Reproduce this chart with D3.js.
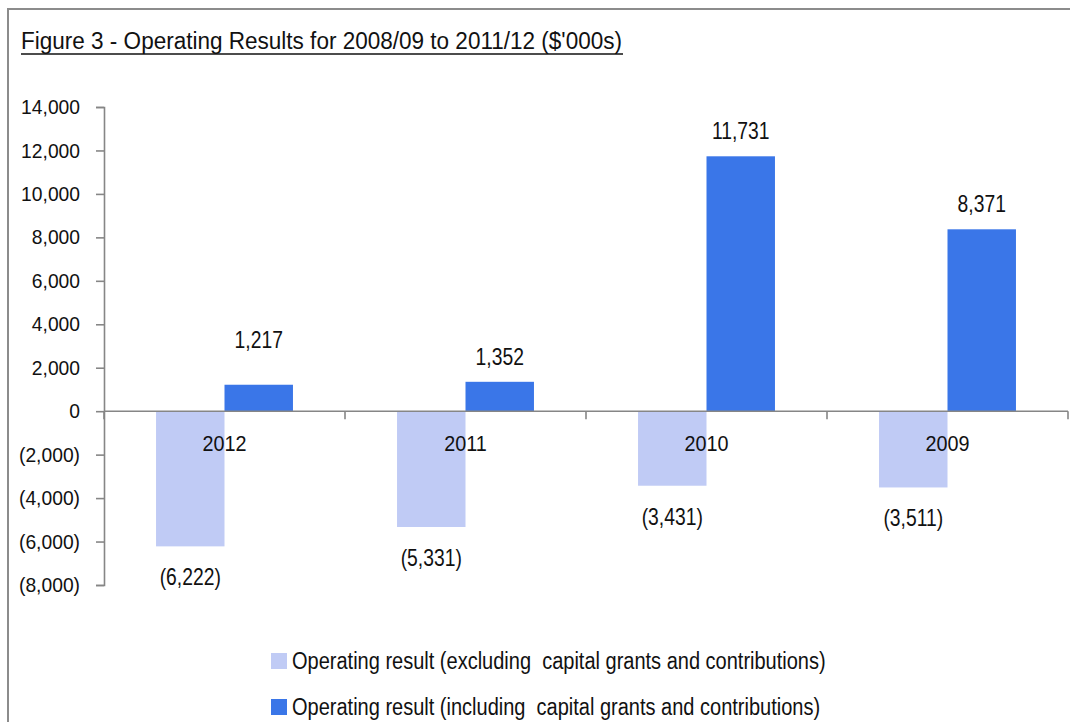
<!DOCTYPE html>
<html>
<head>
<meta charset="utf-8">
<script src="https://cdn.jsdelivr.net/npm/d3@7"></script>
<style>
  html, body { margin: 0; padding: 0; background: #fff; }
  svg { display: block; }
  text { font-family: "Liberation Sans", Arial, sans-serif; fill: #111; }
</style>
</head>
<body>
<svg id="chart" width="1070" height="722"></svg>
<script>
// Operating results by financial year ($'000s)
const years = ["2012", "2011", "2010", "2009"];
const seriesNames = [
  "Operating result (excluding  capital grants and contributions)",
  "Operating result (including  capital grants and contributions)"
];
const excludingCapital = [-6222, -5331, -3431, -3511];
const includingCapital = [1217, 1352, 11731, 8371];
const yTicks = [-8000, -6000, -4000, -2000, 0, 2000, 4000, 6000, 8000, 10000, 12000, 14000];
const titleText = "Figure 3 - Operating Results for 2008/09 to 2011/12 ($'000s)";

const colors = ["#c0cbf5", "#3a76e8"];
const axisColor = "#868686";

// narrow-face look: regular sans squeezed horizontally
const squeeze = { tick: 0.94, category: 0.9, value: 0.84, legend: 0.87 };
// hand-placed label offset (pixels) for the 2012 "including" label
const labelLift = { "2012-1": -20 };

const svg = d3.select("#chart");

// outer frame (top and left edges visible)
svg.append("path")
  .attr("d", "M8,722 V9 H1070")
  .attr("fill", "none")
  .attr("stroke", "#8c8c8c")
  .attr("stroke-width", 2);

// title, underlined
svg.append("text")
  .attr("x", 21).attr("y", 49.3)
  .attr("font-size", 23.3)
  .attr("textLength", 601)
  .attr("lengthAdjust", "spacingAndGlyphs")
  .text(titleText);
svg.append("line")
  .attr("x1", 21).attr("x2", 623)
  .attr("y1", 54).attr("y2", 54)
  .attr("stroke", "#111").attr("stroke-width", 1.6);

const plot = { left: 104, right: 1068, top: 107, bottom: 585 };

const y = d3.scaleLinear()
  .domain([-8000, 14000])
  .range([plot.bottom, plot.top]);

const x = d3.scaleBand()
  .domain(years)
  .range([plot.left, plot.right])
  .padding(0);

const xs = d3.scaleBand()
  .domain([0, 1])
  .range([0, x.bandwidth()])
  .paddingInner(0)
  .paddingOuter(0.76);

const fmt = v => {
  const s = d3.format(",")(Math.abs(v));
  return v < 0 ? "(" + s + ")" : s;
};

// y axis
const tickPad = 16;
const yAxis = d3.axisLeft(y)
  .tickValues(yTicks)
  .tickSize(8)
  .tickPadding(tickPad)
  .tickFormat(fmt);

const gy = svg.append("g")
  .attr("transform", `translate(${plot.left},0)`)
  .call(yAxis);
gy.select(".domain").attr("stroke", axisColor).attr("stroke-width", 1.6);
gy.selectAll(".tick line").attr("stroke", axisColor).attr("stroke-width", 1.6);
gy.selectAll(".tick text")
  .attr("font-size", 20.5)
  .attr("font-family", null)
  .attr("fill", "#111")
  .attr("x", -(8 + tickPad) / squeeze.tick)
  .attr("transform", `scale(${squeeze.tick},1)`);

// bars
const rows = years.map((yr, i) => ({ year: yr, values: [excludingCapital[i], includingCapital[i]] }));

const groups = svg.append("g").selectAll("g")
  .data(rows)
  .join("g")
  .attr("transform", d => `translate(${x(d.year)},0)`);

groups.selectAll("rect")
  .data(d => d.values.map((v, k) => ({ v, k })))
  .join("rect")
  .attr("x", d => xs(d.k))
  .attr("width", xs.bandwidth())
  .attr("y", d => y(Math.max(0, d.v)))
  .attr("height", d => Math.abs(y(d.v) - y(0)))
  .attr("fill", d => colors[d.k]);

// zero line and category boundary ticks
svg.append("line")
  .attr("x1", plot.left).attr("x2", plot.right)
  .attr("y1", y(0)).attr("y2", y(0))
  .attr("stroke", axisColor).attr("stroke-width", 1.6);

const boundaries = years.map(d => x(d)).concat([plot.right]);
svg.append("g").selectAll("line")
  .data(boundaries)
  .join("line")
  .attr("x1", d => d).attr("x2", d => d)
  .attr("y1", y(0)).attr("y2", y(0) + 8)
  .attr("stroke", axisColor).attr("stroke-width", 1.6);

// category labels
svg.append("g").selectAll("text")
  .data(years)
  .join("text")
  .attr("transform", d => `translate(${x(d) + x.bandwidth() / 2},${y(0) + 40}) scale(${squeeze.category},1)`)
  .attr("text-anchor", "middle")
  .attr("font-size", 22)
  .text(d => d);

// value labels
groups.selectAll("text.val")
  .data(d => d.values.map((v, k) => ({ v, k, year: d.year })))
  .join("text")
  .attr("class", "val")
  .attr("transform", d => {
    const lx = xs(d.k) + xs.bandwidth() / 2;
    const ly = (d.v >= 0 ? y(d.v) - 17 : y(d.v) + 39) + (labelLift[d.year + "-" + d.k] || 0);
    return `translate(${lx},${ly}) scale(${squeeze.value},1)`;
  })
  .attr("text-anchor", "middle")
  .attr("font-size", 23)
  .text(d => fmt(d.v));

// legend
const legend = svg.append("g").attr("transform", "translate(271,653)");
const items = legend.selectAll("g")
  .data(seriesNames)
  .join("g")
  .attr("transform", (d, i) => `translate(0,${i * 46})`);
items.append("rect")
  .attr("width", 16).attr("height", 16)
  .attr("fill", (d, i) => colors[i]);
items.append("text")
  .attr("transform", `translate(21,16.3) scale(${squeeze.legend},1)`)
  .attr("font-size", 23)
  .style("white-space", "pre")
  .text(d => d);
</script>
</body>
</html>
